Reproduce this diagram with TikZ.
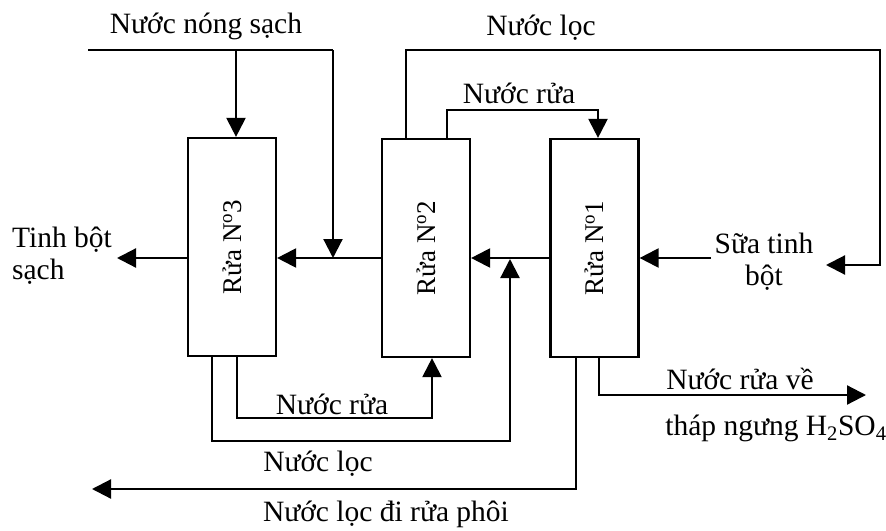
\documentclass[tikz,border=0pt]{standalone}
\usepackage{fontspec}
\setmainfont{Liberation Serif}
\usetikzlibrary{arrows.meta}
\begin{document}
\begin{tikzpicture}[x=1pt,y=-1pt,
  line width=2.2pt,
  arr/.style={-{Triangle[length=19pt,width=19pt]}},
  stage/.style={draw,line width=2.2pt,minimum width=88pt,minimum height=218pt,inner sep=0pt},
  stagelbl/.style={rotate=90,font=\fontsize{27}{32}\selectfont},
  lbl/.style={font=\fontsize{29.5}{32}\selectfont,inner sep=0pt,align=center}]
\useasboundingbox (0,0) rectangle (886,530);
% boxes
\node[stage] (b3) at (232,247) {};
\node[stage] (b2) at (426,248) {};
\node[stage] (b1) at (594.5,248) {};
\node[stagelbl] at (b3.center) {Rửa N\textsuperscript{o}3};
\node[stagelbl] at (b2.center) {Rửa N\textsuperscript{o}2};
\node[stagelbl] at (b1.center) {Rửa N\textsuperscript{o}1};
% labels
\node[lbl] (tNns) at (206,26) {Nước nóng sạch};
\node[lbl] (tNl1) at (541,28) {Nước lọc};
\node[lbl] (tNr1) at (519,93) {Nước rửa};
\node[lbl,anchor=west,align=left] (tTb) at (11,256) {Tinh bột\\sạch};
\node[lbl] (tSua) at (764,262) {Sữa tinh\\bột};
\node[lbl] (tNr2) at (332,404) {Nước rửa};
\node[lbl] (tNl2) at (318,464) {Nước lọc};
\node[lbl] (tNl3) at (386,514) {Nước lọc đi rửa phôi};
\node[lbl] (tNrv) at (740,379) {Nước rửa về};
\node[lbl] (tThap) at (776,428) {tháp ngưng H\textsubscript{2}SO\textsubscript{4}};
% coordinates
\coordinate (m) at (0,258);
\coordinate (hsA) at (88,50);
\coordinate (hsB) at (236,50);
\coordinate (hsC) at (333,50);
\coordinate (hsD) at (333,258);
\coordinate (tb) at (117,258);
\coordinate (sua) at (711,258);
\coordinate (lA) at (406,50);
\coordinate (lB) at (880,50);
\coordinate (lC) at (880,265);
\coordinate (lD) at (826,265);
\coordinate (rA) at (447,110);
\coordinate (rB) at (598,110);
\coordinate (brA) at (237,418);
\coordinate (brB) at (432,418);
\coordinate (blA) at (212,441);
\coordinate (blB) at (510,441);
\coordinate (blC) at (510,259);
\coordinate (phA) at (576,489);
\coordinate (phB) at (92,489);
\coordinate (nvA) at (599,395);
\coordinate (nvB) at (866,395);
% connectors
\draw (hsA) -- (hsC);
\draw[arr] (hsB) -- (hsB |- b3.north);
\draw[arr] (hsC) -- (hsD);
\draw[arr] (b2.west |- m) -- (b3.east |- m);
\draw[arr] (b3.west |- m) -- (tb);
\draw[arr] (b1.west |- m) -- (b2.east |- m);
\draw[arr] (sua) -- (b1.east |- m);
\draw[arr] (lA |- b2.north) -- (lA) -- (lB) -- (lC) -- (lD);
\draw[arr] (rA |- b2.north) -- (rA) -- (rB) -- (rB |- b1.north);
\draw[arr] (brA |- b3.south) -- (brA) -- (brB) -- (brB |- b2.south);
\draw[arr] (blA |- b3.south) -- (blA) -- (blB) -- (blC);
\draw[arr] (phA |- b1.south) -- (phA) -- (phB);
\draw[arr] (nvA |- b1.south) -- (nvA) -- (nvB);
\end{tikzpicture}
\end{document}
